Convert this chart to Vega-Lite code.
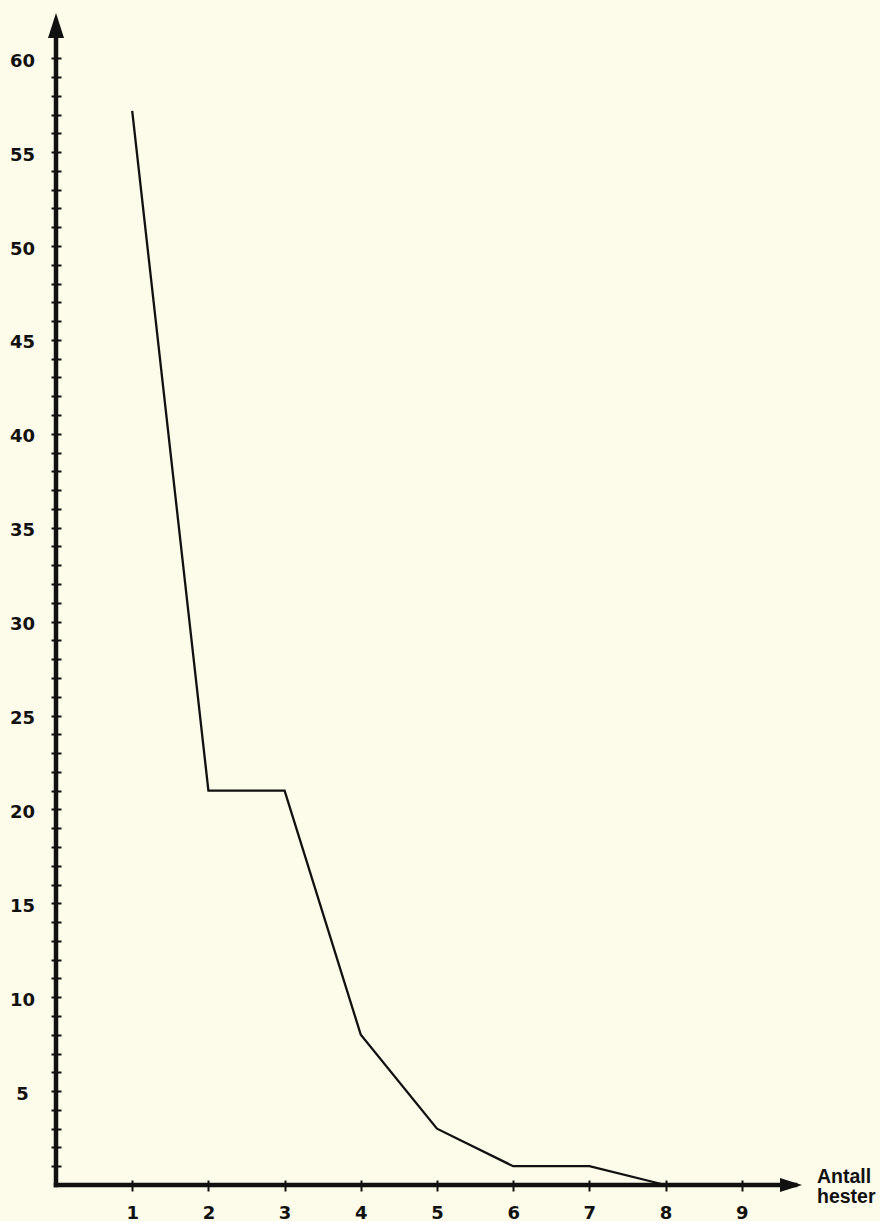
{
  "$schema": "https://vega.github.io/schema/vega-lite/v6.json",
  "width": 880,
  "height": 1221,
  "autosize": {"type": "none"},
  "padding": 0,
  "background": "#fdfbea",
  "config": {
    "view": {"stroke": null},
    "font": "DejaVu Sans",
    "axis": {"grid": false, "domain": false, "title": null, "labelFont": "DejaVu Sans", "labelFontWeight": "bold", "labelFontSize": 18, "labelColor": "#111", "tickColor": "#111", "tickWidth": 2, "labelOverlap": false, "tickCount": 200}
  },
  "datasets": {
    "series": [
      {"hester": 1, "verdi": 57.2},
      {"hester": 2, "verdi": 21},
      {"hester": 3, "verdi": 21},
      {"hester": 4, "verdi": 8},
      {"hester": 5, "verdi": 3},
      {"hester": 6, "verdi": 1},
      {"hester": 7, "verdi": 1},
      {"hester": 8, "verdi": 0}
    ],
    "axes": [
      {"x": 0, "y": 0, "x2": 9.7, "y2": 0},
      {"x": 0, "y": 0, "x2": 0, "y2": 61.6}
    ],
    "arrowUp": [{"x": 0, "y": 61.74}],
    "arrowRight": [{"x": 9.646, "y": 0}],
    "label": [{"x": 9.987, "y": 0.4, "text": "Antall\nhester"}]
  },
  "layer": [
    {
      "data": {"name": "axes"},
      "mark": {"type": "rule", "strokeWidth": 4.5, "color": "#111", "strokeCap": "square"},
      "encoding": {
        "x": {"field": "x", "type": "quantitative", "scale": {"domain": [-0.735, 10.814], "nice": false, "zero": false},
              "axis": {"orient": "bottom", "offset": -41, "tickSize": 11, "labelPadding": 13, "format": "d", "tickCount": 200, "labelOverlap": false, "values": [1,2,3,4,5,6,7,8,9]}},
        "y": {"field": "y", "type": "quantitative", "scale": {"domain": [-1.917, 63.1], "nice": false, "zero": false},
              "axis": {"orient": "left", "offset": -61, "tickSize": 10, "labelPadding": 29, "labelAlign": "center", "labelOffset": 3, "format": "d", "tickCount": 200, "labelOverlap": false,
                       "values": [1,2,3,4,5,6,7,8,9,10,11,12,13,14,15,16,17,18,19,20,21,22,23,24,25,26,27,28,29,30,31,32,33,34,35,36,37,38,39,40,41,42,43,44,45,46,47,48,49,50,51,52,53,54,55,56,57,58,59,60],
                       "labelExpr": "datum.value % 5 === 0 ? datum.label : ''"}},
        "x2": {"field": "x2"},
        "y2": {"field": "y2"}
      }
    },
    {
      "data": {"name": "series"},
      "mark": {"type": "line", "strokeWidth": 2.3, "color": "#111"},
      "encoding": {
        "x": {"field": "hester", "type": "quantitative", "scale": {"domain": [-0.735, 10.814], "nice": false, "zero": false}},
        "y": {"field": "verdi", "type": "quantitative", "scale": {"domain": [-1.917, 63.1], "nice": false, "zero": false}}
      }
    },
    {
      "data": {"name": "arrowUp"},
      "mark": {"type": "point", "shape": "M0,-1L0.64,1L-0.64,1Z", "size": 625, "filled": true, "color": "#111", "opacity": 1},
      "encoding": {
        "x": {"field": "x", "type": "quantitative"},
        "y": {"field": "y", "type": "quantitative"}
      }
    },
    {
      "data": {"name": "arrowRight"},
      "mark": {"type": "point", "shape": "M1,0L-1,0.64L-1,-0.64Z", "size": 484, "filled": true, "color": "#111", "opacity": 1},
      "encoding": {
        "x": {"field": "x", "type": "quantitative"},
        "y": {"field": "y", "type": "quantitative"}
      }
    },
    {
      "data": {"name": "label"},
      "mark": {"type": "text", "align": "left", "baseline": "middle", "lineBreak": "\n", "lineHeight": 20, "font": "Liberation Sans", "fontWeight": "bold", "fontSize": 19.5, "color": "#111"},
      "encoding": {
        "x": {"field": "x", "type": "quantitative"},
        "y": {"field": "y", "type": "quantitative"},
        "text": {"field": "text"}
      }
    }
  ]
}
